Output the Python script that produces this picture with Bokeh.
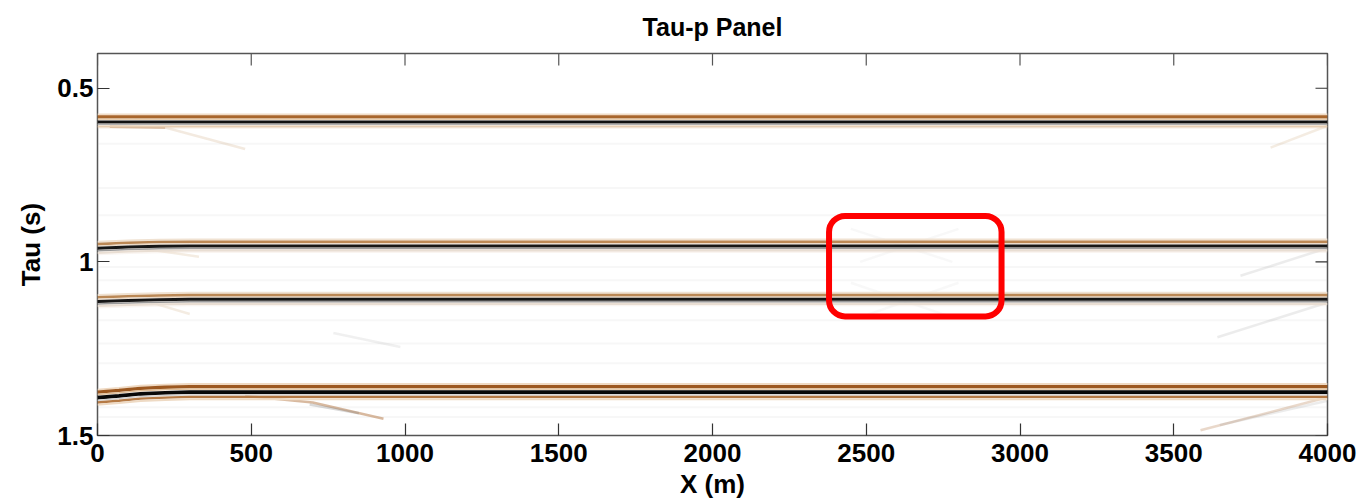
import math
from bokeh.plotting import figure
from bokeh.models import Range1d, FixedTicker, BoxAnnotation
from bokeh.embed import file_html
from bokeh.resources import INLINE

# ---------------- data ----------------
x_ticks = [0, 500, 1000, 1500, 2000, 2500, 3000, 3500, 4000]
tau_ticks = [0.5, 1.0, 1.5]
tau_tick_labels = ["0.5", "1", "1.5"]

# main events (offset in m, tau in s)
x_e1 = [0, 4000]
tau_e1 = [0.597, 0.597]
x_e2 = [0, 100, 200, 300, 4000]
tau_e2 = [0.961, 0.957, 0.955, 0.954, 0.954]
x_e3 = [0, 100, 200, 300, 4000]
tau_e3 = [1.114, 1.111, 1.109, 1.108, 1.108]
x_e4 = [0, 70, 140, 220, 300, 4000]
tau_e4 = [1.391, 1.386, 1.380, 1.377, 1.375, 1.375]

# faint dipping / aliasing events
faint_x = [[40, 220], [220, 480], [120, 550], [480, 700, 930], [690, 850],
           [767, 985], [150, 330], [170, 300],
           [3815, 4000], [3717, 4000], [3642, 4000], [3587, 4000], [3650, 4000],
           [2450, 2780], [2480, 2800], [2450, 2780], [2480, 2800]]
faint_tau = [[0.611, 0.613], [0.613, 0.675], [0.585, 0.578], [1.386, 1.405, 1.452], [1.411, 1.436],
             [1.205, 1.245], [0.962, 0.985], [1.116, 1.150],
             [0.671, 0.608], [1.040, 0.960], [1.217, 1.117], [1.485, 1.390], [1.47, 1.40],
             [0.905, 1.000], [1.000, 0.905], [1.06, 1.16], [1.16, 1.06]]
faint_kind = ["brown", "tan", "gray", "brown", "gray",
              "gray", "tan", "tan",
              "tan", "gray", "gray", "brown", "gray",
              "gray", "gray", "gray", "gray"]
faint_alpha = [0.6, 0.22, 0.08, 0.45, 0.3,
               0.12, 0.2, 0.2,
               0.2, 0.15, 0.15, 0.25, 0.15,
               0.06, 0.06, 0.06, 0.06]

# faint horizontal background streaks (tau)
streak_tau = [0.66, 0.787, 0.866, 1.015, 1.053, 1.168, 1.235, 1.292, 1.419, 1.447]

# highlight box
box_left, box_right = 2379, 2940
box_top, box_bottom = 0.868, 1.157

# ---------------- figure ----------------
TAU_MIN, TAU_MAX = 0.4, 1.5
FONT = "Liberation Sans"

p = figure(width=1363, height=503, output_backend="svg", toolbar_location=None,
           x_range=Range1d(0, 4000), y_range=Range1d(TAU_MAX, TAU_MIN),
           min_border_left=97, min_border_right=36, min_border_top=53, min_border_bottom=68,
           background_fill_color="white", border_fill_color="white")
p.grid.visible = False
p.outline_line_color = "#555555"
p.outline_line_width = 1.5

PX = (TAU_MAX - TAU_MIN) / 382.0  # one screen pixel in seconds

def shift(taus, off_px):
    return [t + off_px * PX for t in taus]

# background streaks
for t in streak_tau:
    p.line([0, 4000], [t, t], line_color="#b0b0b0", line_alpha=0.1, line_width=2)

colors = {"brown": "#a8642a", "tan": "#c9a070", "gray": "#808080"}
for xs, ts, k, a in zip(faint_x, faint_tau, faint_kind, faint_alpha):
    p.line(xs, ts, line_color=colors[k], line_alpha=a, line_width=2.5)

profile_strong = [(-8, "#efd9c2", 2), (-5.5, "#9c5820", 3.4), (-3.2, "#dfbe98", 1.5),
                  (0, "#080808", 3.6), (2.7, "#cfcfcf", 1.2), (4.8, "#b57a45", 2.4), (7.2, "#eedac4", 2)]
profile_e1 = [(-7.5, "#f0dcc6", 2), (-5, "#a8662c", 3.2), (-2.8, "#e0c09a", 1.2),
              (0, "#111111", 3), (2.5, "#b0b0b0", 1.3), (4.6, "#e8cfb4", 2)]
profile_mid = [(-6.5, "#f0e2d2", 2), (-4.2, "#bb8855", 2.6), (-2.2, "#e8d6c2", 1),
               (0, "#161616", 3), (2.5, "#9a9a9a", 1.5), (4.6, "#e9ded3", 2)]

def draw_event(xs, ts, prof):
    p.line(xs, ts, line_color="#ecd9c6", line_alpha=0.25, line_width=14)
    for off, col, w in prof:
        p.line(xs, shift(ts, off), line_color=col, line_width=w)

draw_event(x_e1, tau_e1, profile_e1)
draw_event(x_e2, tau_e2, profile_mid)
draw_event(x_e3, tau_e3, profile_mid)
draw_event(x_e4, tau_e4, profile_strong)

# highlight box
p.add_layout(BoxAnnotation(left=box_left, right=box_right, top=box_top, bottom=box_bottom,
                           fill_color=None, fill_alpha=0, line_color="#ff0000", line_alpha=1.0,
                           line_width=6, border_radius=16))

# mirrored tick marks on top and right edges (MATLAB box style)
p.ray(x=x_ticks, y=[TAU_MIN] * len(x_ticks), length=12, length_units="screen",
      angle=-math.pi / 2, line_color="#555555", line_width=1.2)
p.ray(x=[4000] * len(tau_ticks), y=tau_ticks, length=12, length_units="screen",
      angle=math.pi, line_color="#333333", line_width=1.2)

# axes
p.xaxis.ticker = FixedTicker(ticks=x_ticks)
p.yaxis.ticker = FixedTicker(ticks=tau_ticks)
p.yaxis.major_label_overrides = {t: s for t, s in zip(tau_ticks, tau_tick_labels)}

for ax in list(p.xaxis) + list(p.yaxis):
    ax.axis_line_color = None
    ax.major_tick_in = 12
    ax.major_tick_out = 0
    ax.major_tick_line_color = "#333333"
    ax.major_tick_line_width = 1.2
    ax.minor_tick_line_color = None
    ax.major_label_text_font = FONT
    ax.major_label_text_font_style = "bold"
    ax.major_label_text_font_size = "26px"
    ax.major_label_text_color = "black"
    ax.axis_label_text_font = FONT
    ax.axis_label_text_font_style = "bold"
    ax.axis_label_text_font_size = "26px"
    ax.axis_label_text_color = "black"

p.xaxis.axis_label = "X (m)"
p.yaxis.axis_label = "Tau (s)"
p.xaxis.major_label_standoff = 8
p.xaxis.axis_label_standoff = 4
p.yaxis.major_label_standoff = 4
p.yaxis.axis_label_standoff = 8

p.title.text = "Tau-p Panel"
p.title.align = "center"
p.title.vertical_align = "top"
p.title.text_font = FONT
p.title.text_font_style = "bold"
p.title.text_font_size = "25px"
p.title.text_color = "black"
p.title.standoff = 22

open("out.html", "w").write(file_html(p, INLINE))
